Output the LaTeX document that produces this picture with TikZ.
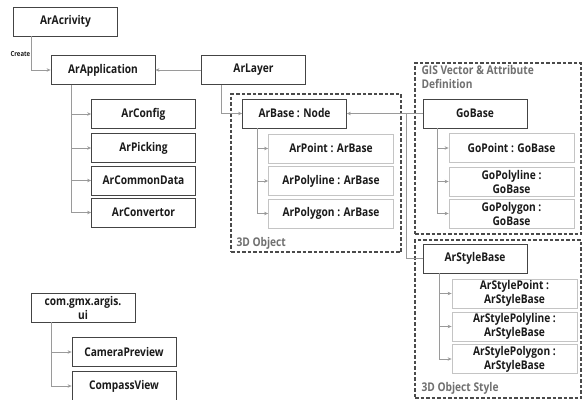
\documentclass[tikz,border=0pt]{standalone}
\usepackage{fontspec}
\setmainfont[FakeStretch=0.85]{Open Sans}
\usetikzlibrary{arrows.meta}
\definecolor{BoxEdge}{HTML}{444444}
\definecolor{SubEdge}{HTML}{C4C4C4}
\definecolor{LinkGrey}{HTML}{9A9A9A}
\definecolor{FrameGrey}{HTML}{4A4A4A}
\definecolor{TitleGrey}{HTML}{707070}
\definecolor{TextDark}{HTML}{1A1A1A}

\begin{document}
\begin{tikzpicture}[x=1pt,y=-1pt,
        box/.style={draw=BoxEdge,line width=0.8pt,fill=white,minimum width=104pt,minimum height=29pt,
                    align=center,inner sep=0.5pt,text=TextDark,
                    font=\bfseries\fontsize{12}{14}\selectfont},
        sub/.style={box,draw=SubEdge,minimum width=125pt},
        link/.style={draw=LinkGrey,line width=0.8pt},
        arr/.style={link,-{Stealth[length=4pt,width=3.5pt]}},
        pkgframe/.style={draw=FrameGrey,line width=1.4pt,dash pattern=on 3.5pt off 2pt},
        grouplbl/.style={text=TitleGrey,inner sep=0pt,align=left,
                    font=\bfseries\fontsize{12}{14}\selectfont},
        cre/.style={text=TextDark,inner sep=0.5pt,font=\bfseries\fontsize{7}{8}\selectfont}]
      \useasboundingbox (0,0) rectangle (583,399);
      \node[pkgframe,minimum width=170pt,minimum height=158pt] (obj) at (316,173) {};
      \node[pkgframe,minimum width=166pt,minimum height=171pt] (gis) at (498,148.5) {};
      \node[pkgframe,minimum width=166pt,minimum height=158pt] (sty) at (498,319) {};
      \node[grouplbl,anchor=west] (objlbl) at ([xshift=6pt,yshift=9pt]obj.south west) {3D Object};
      \node[grouplbl,anchor=north west] (gislbl) at ([xshift=7pt,yshift=-3pt]gis.north west) {GIS Vector \& Attribute\\Definition};
      \node[grouplbl,anchor=west] (stylbl) at ([xshift=7pt,yshift=10pt]sty.south west) {3D Object Style};
      \node[box] (act)   at (65.5,21.5) {ArAcrivity};
      \node[box] (app)   at (103,70)    {ArApplication};
      \node[box] (lay)   at (253.5,70)  {ArLayer};
      \node[box] (cfg)   at (143.5,114) {ArConfig};
      \node[box] (pick)  at (143.5,148) {ArPicking};
      \node[box] (cdata) at (143.5,180.5) {ArCommonData};
      \node[box] (conv)  at (143.5,212.5) {ArConvertor};
      \node[box] (base)  at (294.5,113.5) {ArBase : Node};
      \node[sub] (pt)    at (331,148.5) {ArPoint : ArBase};
      \node[sub] (pl)    at (331,181)   {ArPolyline : ArBase};
      \node[sub] (pg)    at (331,213.5) {ArPolygon : ArBase};
      \node[box] (gob)   at (475,113.5) {GoBase};
      \node[sub] (gpt)   at (511.5,148) {GoPoint : GoBase};
      \node[sub] (gpl)   at (511.5,181.5) {GoPolyline :\\GoBase};
      \node[sub] (gpg)   at (511.5,213.5) {GoPolygon :\\GoBase};
      \node[box] (sb)    at (475,258.5) {ArStyleBase};
      \node[sub] (spt)   at (514.5,293.5) {ArStylePoint :\\ArStyleBase};
      \node[sub] (spl)   at (514.5,326.5) {ArStylePolyline :\\ArStyleBase};
      \node[sub] (spg)   at (514.5,359)   {ArStylePolygon :\\ArStyleBase};
      \node[box] (ui)    at (83,307.5)  {com.gmx.argis.\\ui};
      \node[box] (cam)   at (124,352)   {CameraPreview};
      \node[box] (comp)  at (124,386)   {CompassView};
      \draw[arr] ([xshift=18pt]act.south west) |- node[pos=0.26,left=0pt,cre] {Create} (app.west);
      \draw[arr] (lay) -- (app);
      \foreach \c in {cfg,pick,cdata,conv}
        \draw[arr] ([xshift=21pt]app.south west) |- (\c.west);
      \draw[arr] ([xshift=20pt]lay.south west) |- (base.west);
      \foreach \c in {pt,pl,pg}
        \draw[arr] ([xshift=15pt]base.south west) |- (\c.west);
      \coordinate (split) at ([xshift=-16pt]gob.west);
      \draw[arr] (gob) -- (base);
      \draw[link] (split) |- (sb.west);
      \foreach \c in {gpt,gpl,gpg}
        \draw[arr] ([xshift=15pt]gob.south west) |- (\c.west);
      \foreach \c in {spt,spl,spg}
        \draw[arr] ([xshift=17pt]sb.south west) |- (\c.west);
      \foreach \c in {cam,comp}
        \draw[arr] ([xshift=21pt]ui.south west) |- (\c.west);
    \end{tikzpicture}
\end{document}
